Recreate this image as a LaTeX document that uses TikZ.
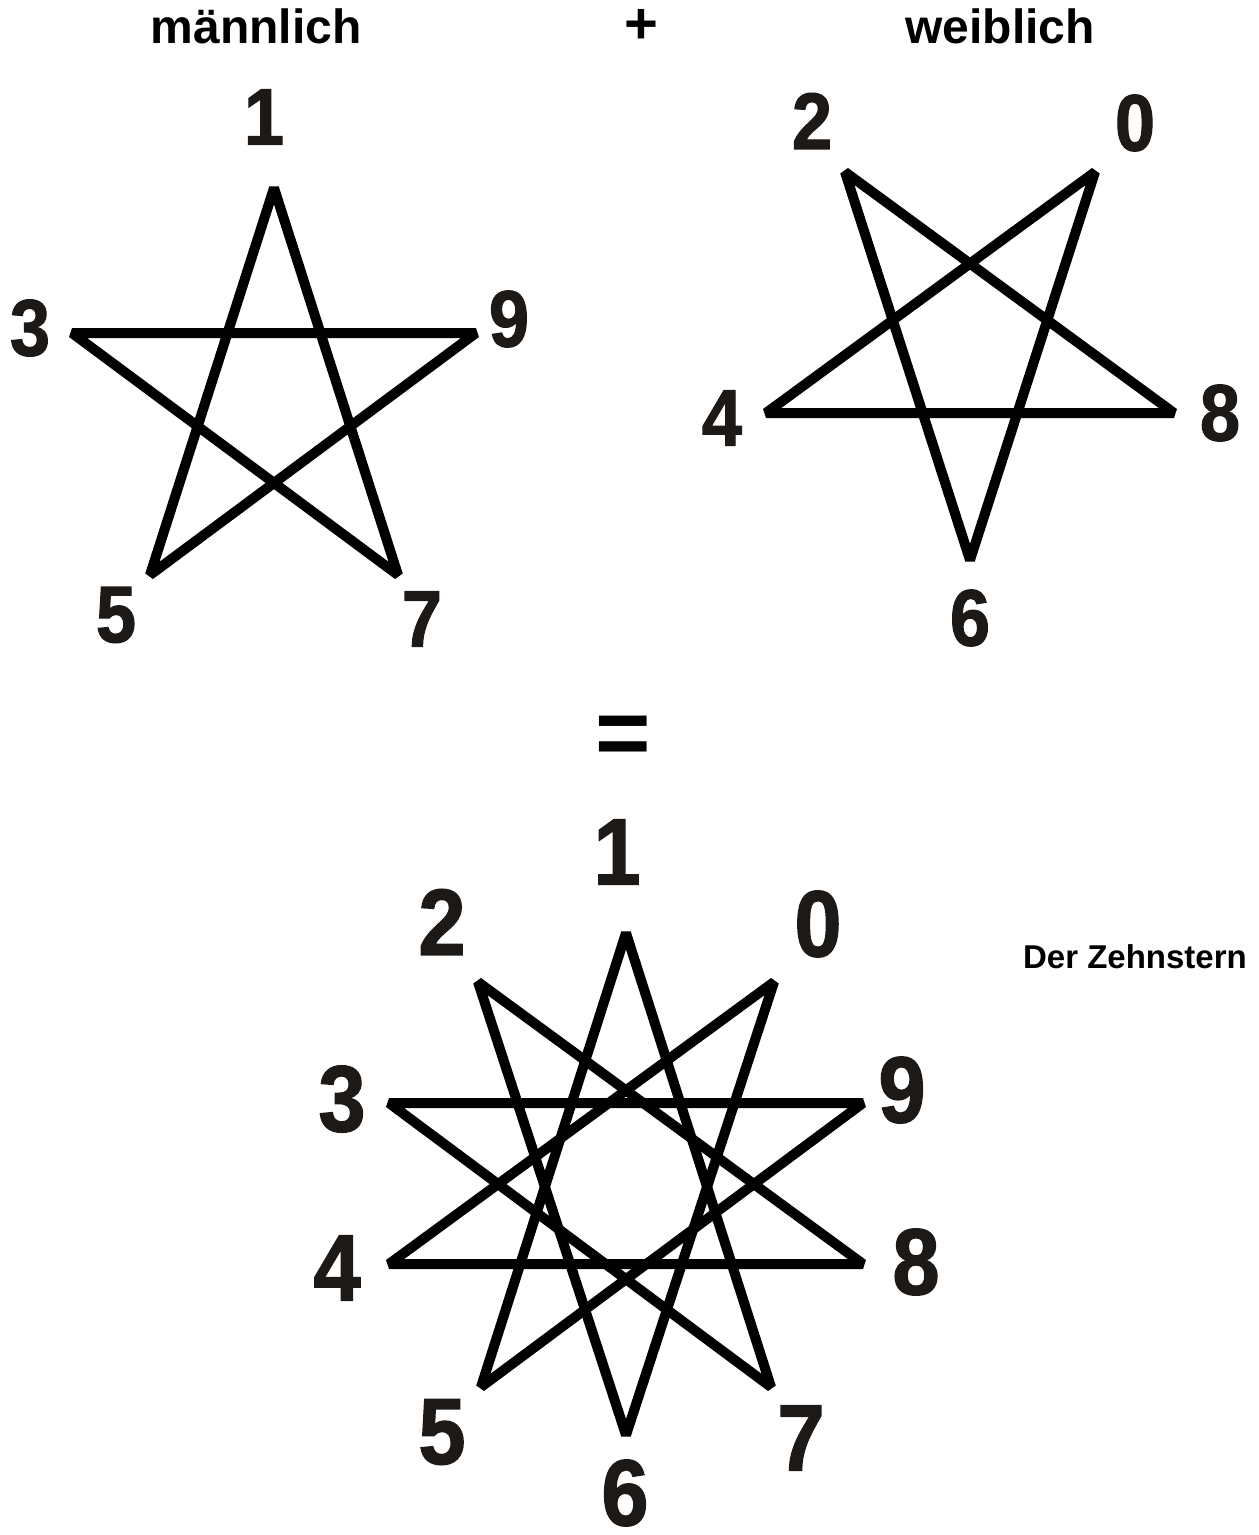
\documentclass[tikz,border=0pt]{standalone}
\usepackage{fontspec}
\setmainfont{Liberation Sans}
\newfontfamily\digfont[FakeBold=1.5,FakeStretch=0.9]{Liberation Sans Bold}
\newfontfamily\titfont{Liberation Sans Bold}
\definecolor{digcol}{RGB}{29,25,22}
\begin{document}
\begin{tikzpicture}[x=1pt,y=-1pt,
  starline/.style={line width=10pt,line join=bevel,black},
  digtop/.style={inner sep=0pt,text=digcol,font=\digfont\fontsize{80}{80}\selectfont},
  digbot/.style={inner sep=0pt,text=digcol,font=\digfont\fontsize{94}{94}\selectfont},
  title/.style={inner sep=0pt,anchor=base,font=\titfont\fontsize{48}{48}\selectfont}]
\useasboundingbox (0,0) rectangle (1259,1535);
% titles
\node[title] (tm) at (256,43) {männlich};
\node[title,font=\titfont\fontsize{58}{58}\selectfont] (tplus) at (641,43) {+};
\node[title] (tw) at (1000,43) {weiblich};
\node[title,font=\titfont\fontsize{95}{95}\selectfont] (teq) at (623,765) {=};
\node[title,font=\titfont\fontsize{33}{33}\selectfont] (tz) at (1135,968) {Der Zehnstern};
% male pentagram
\coordinate (m1) at (274,188);
\coordinate (m3) at (72,333);
\coordinate (m9) at (476,333);
\coordinate (m5) at (150,575);
\coordinate (m7) at (398,575);
\draw[starline] (m1) -- (m5) -- (m9) -- (m3) -- (m7) -- cycle;
\node[digtop] (lm1) at (264,117) {1};
\node[digtop] (lm3) at (30,328) {3};
\node[digtop] (lm9) at (509,319) {9};
\node[digtop] (lm5) at (116,615) {5};
\node[digtop] (lm7) at (422,619) {7};
% female pentagram
\coordinate (f2) at (845,172);
\coordinate (f0) at (1095,172);
\coordinate (f4) at (766,413);
\coordinate (f8) at (1174,413);
\coordinate (f6) at (970,560);
\draw[starline] (f2) -- (f8) -- (f4) -- (f0) -- (f6) -- cycle;
\node[digtop] (lf2) at (812,121) {2};
\node[digtop] (lf0) at (1135,123) {0};
\node[digtop] (lf4) at (722,418) {4};
\node[digtop] (lf8) at (1220,413) {8};
\node[digtop] (lf6) at (970,618) {6};
% ten-pointed star
\coordinate (b1) at (626,933);
\coordinate (b2) at (478,982);
\coordinate (b0) at (774,982);
\coordinate (b3) at (389,1103);
\coordinate (b9) at (863,1103);
\coordinate (b4) at (389,1264);
\coordinate (b8) at (863,1264);
\coordinate (b5) at (481,1387);
\coordinate (b7) at (771,1387);
\coordinate (b6) at (626,1435);
\draw[starline] (b1) -- (b5) -- (b9) -- (b3) -- (b7) -- cycle;
\draw[starline] (b2) -- (b8) -- (b4) -- (b0) -- (b6) -- cycle;
\node[digbot] (lb1) at (617,852) {1};
\node[digbot] (lb2) at (442,922) {2};
\node[digbot] (lb0) at (818,924) {0};
\node[digbot] (lb3) at (342,1099) {3};
\node[digbot] (lb9) at (902,1090) {9};
\node[digbot] (lb4) at (337,1268) {4};
\node[digbot] (lb8) at (916,1262) {8};
\node[digbot] (lb5) at (442,1432) {5};
\node[digbot] (lb7) at (801,1438) {7};
\node[digbot] (lb6) at (625,1493) {6};
\end{tikzpicture}
\end{document}
